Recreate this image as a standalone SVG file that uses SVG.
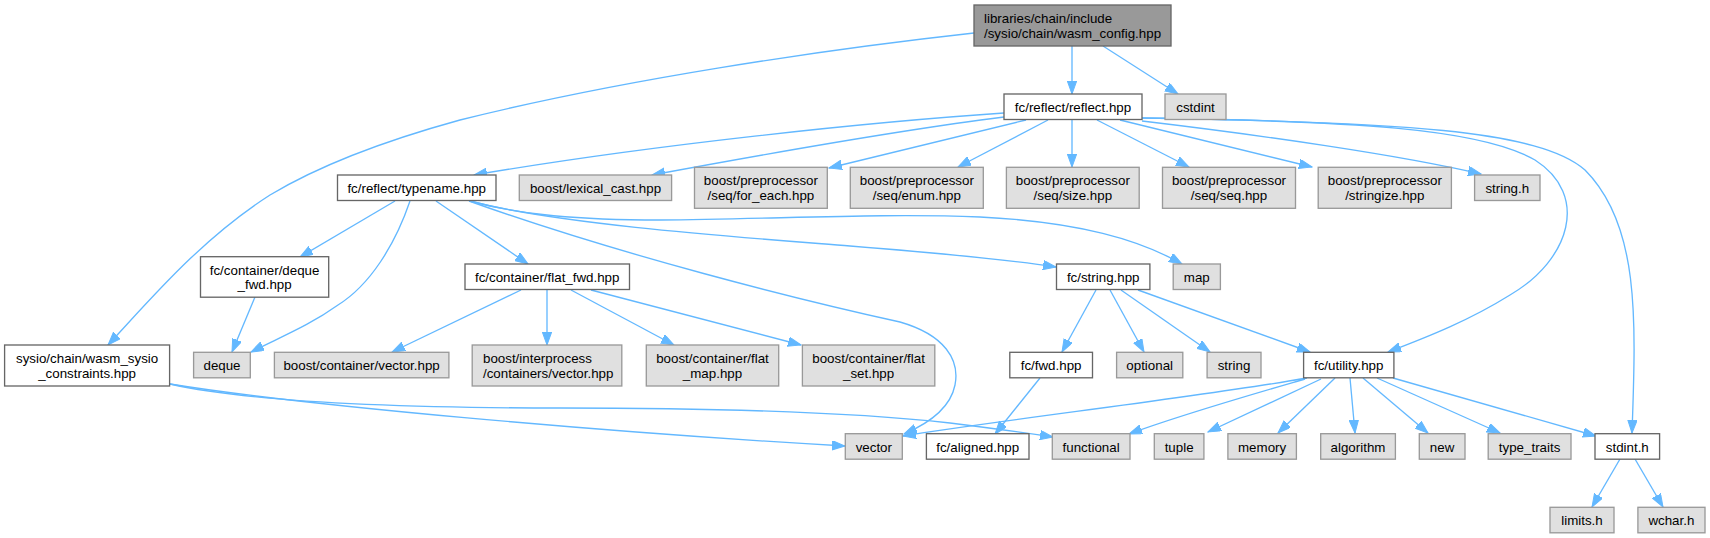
<svg xmlns="http://www.w3.org/2000/svg" width="1710" height="538" viewBox="0 0 1710 538">
<defs>
<marker id="a" markerWidth="14" markerHeight="10" refX="13" refY="4.7" orient="auto" markerUnits="userSpaceOnUse"><path d="M0,0 L13,4.7 L0,9.4 z" fill="#63b8ff" stroke="#63b8ff" stroke-width="1"/></marker>
<style>
.e{fill:none;stroke:#63b8ff;stroke-width:1.33;marker-end:url(#a)}
.w{fill:#ffffff;stroke:#666666;stroke-width:1.33}
.g{fill:#e0e0e0;stroke:#999999;stroke-width:1.33}
.r{fill:#999999;stroke:#666666;stroke-width:1.33}
text{font-family:"Liberation Sans",Arial,Helvetica,sans-serif;font-size:13.33px;fill:#000000;text-anchor:middle}
text.l{text-anchor:start}
</style>
</defs>
<rect width="1710" height="538" fill="#ffffff"/>
<g id="edges">
<path class="e" d="M1072,46 L1072,94"/>
<path class="e" d="M1103,46 L1178,94"/>
<path class="e" d="M974,33 C820,50 620,80 460,120 C380,142 320,165 270,195 C200,240 150,300 108,345"/>
<path class="e" d="M1004,113 C870,122 650,145 474,175"/>
<path class="e" d="M1004,117 C900,130 760,155 652,175"/>
<path class="e" d="M1026,120 L829,168"/>
<path class="e" d="M1048,120 L958,167"/>
<path class="e" d="M1072,120 L1072,167"/>
<path class="e" d="M1097,120 L1189,167"/>
<path class="e" d="M1120,120 L1312,167"/>
<path class="e" d="M1142,121 C1260,135 1400,155 1481,174"/>
<path class="e" d="M1141,118 C1350,121 1480,128 1535,160 C1590,195 1570,260 1510,295 C1470,320 1430,336 1388,352"/>
<path class="e" d="M1141,118 C1400,122 1540,130 1585,170 C1640,225 1636,320 1632,433"/>
<path class="e" d="M395,201 L300,257"/>
<path class="e" d="M410,201 C395,245 370,285 338,305 C310,325 285,335 251,352"/>
<path class="e" d="M436,201 L528,264"/>
<path class="e" d="M469,201 C620,255 800,300 900,322 C945,335 960,360 955,385 C950,410 925,425 904,434"/>
<path class="e" d="M470,201 C520,215 580,220 660,220 C780,219 880,213 980,217 C1080,222 1140,240 1182,264"/>
<path class="e" d="M470,201 C560,225 750,238 850,246 C950,254 1010,260 1056,267"/>
<path class="e" d="M255,297 L232,352"/>
<path class="e" d="M521,290 L392,352"/>
<path class="e" d="M547,290 L547,345"/>
<path class="e" d="M571,290 L674,345"/>
<path class="e" d="M591,290 L801,345"/>
<path class="e" d="M1096,290 L1062,352"/>
<path class="e" d="M1110,290 L1144,352"/>
<path class="e" d="M1121,290 L1210,352"/>
<path class="e" d="M1138,290 L1310,352"/>
<path class="e" d="M1040,378 L995,434"/>
<path class="e" d="M1307,378 C1200,397 1000,420 903,436"/>
<path class="e" d="M1305,379 C1250,395 1180,415 1129,434"/>
<path class="e" d="M1321,379 L1208,432"/>
<path class="e" d="M1335,378 L1278,433"/>
<path class="e" d="M1350,378 L1355,433"/>
<path class="e" d="M1363,378 L1428,433"/>
<path class="e" d="M1377,378 L1500,433"/>
<path class="e" d="M1393,378 L1596,436"/>
<path class="e" d="M1620,459 L1592,507"/>
<path class="e" d="M1635,459 L1663,507"/>
<path class="e" d="M170,384 C300,405 600,432 845,446"/>
<path class="e" d="M170,384 C250,402 400,408 560,408 C700,408 850,412 950,423 C990,428 1020,432 1053,437"/>
</g>
<g id="root"><rect class="r" x="974" y="5" width="197" height="41"/><text class="l" x="984" y="23">libraries/chain/include</text><text class="l" x="984" y="37.7">/sysio/chain/wasm_config.hpp</text></g>
<g id="reflect"><rect class="w" x="1004" y="94" width="138" height="25.5"/><text x="1073" y="111.8">fc/reflect/reflect.hpp</text></g>
<g id="cstdint"><rect class="g" x="1165" y="94" width="61" height="25.5"/><text x="1195.5" y="111.8">cstdint</text></g>
<g id="constraints"><rect class="w" x="4.6" y="345" width="165" height="41"/><text x="87.1" y="363">sysio/chain/wasm_sysio</text><text x="87.1" y="377.7">_constraints.hpp</text></g>
<g id="typename"><rect class="w" x="337.5" y="175" width="158.5" height="25.5"/><text x="416.7" y="192.8">fc/reflect/typename.hpp</text></g>
<g id="lexical_cast"><rect class="g" x="519.3" y="175" width="152.3" height="25.5"/><text x="595.5" y="192.8">boost/lexical_cast.hpp</text></g>
<g id="for_each"><rect class="g" x="694.5" y="167.3" width="132.8" height="41"/><text x="760.9" y="185.3">boost/preprocessor</text><text x="760.9" y="200">/seq/for_each.hpp</text></g>
<g id="enum"><rect class="g" x="850.3" y="167.3" width="133" height="41"/><text x="916.8" y="185.3">boost/preprocessor</text><text x="916.8" y="200">/seq/enum.hpp</text></g>
<g id="size"><rect class="g" x="1006.4" y="167.3" width="132.8" height="41"/><text x="1072.8" y="185.3">boost/preprocessor</text><text x="1072.8" y="200">/seq/size.hpp</text></g>
<g id="seq"><rect class="g" x="1162.5" y="167.3" width="133" height="41"/><text x="1229" y="185.3">boost/preprocessor</text><text x="1229" y="200">/seq/seq.hpp</text></g>
<g id="stringize"><rect class="g" x="1318.2" y="167.3" width="133.2" height="41"/><text x="1384.8" y="185.3">boost/preprocessor</text><text x="1384.8" y="200">/stringize.hpp</text></g>
<g id="string_h"><rect class="g" x="1474.6" y="175" width="65.4" height="25.5"/><text x="1507.3" y="192.8">string.h</text></g>
<g id="deque_fwd"><rect class="w" x="200.5" y="256.7" width="128.2" height="40.5"/><text x="264.6" y="274.7">fc/container/deque</text><text x="264.6" y="289.4">_fwd.hpp</text></g>
<g id="flat_fwd"><rect class="w" x="465" y="264" width="164.5" height="25.5"/><text x="547.2" y="281.8">fc/container/flat_fwd.hpp</text></g>
<g id="fc_string"><rect class="w" x="1056.5" y="264" width="93.4" height="25.5"/><text x="1103.2" y="281.8">fc/string.hpp</text></g>
<g id="map"><rect class="g" x="1173.2" y="264" width="47.2" height="25.5"/><text x="1196.8" y="281.8">map</text></g>
<g id="deque"><rect class="g" x="193.6" y="352.3" width="56.7" height="25.5"/><text x="222" y="370.1">deque</text></g>
<g id="container_vector"><rect class="g" x="274.4" y="352.3" width="174.5" height="25.5"/><text x="361.6" y="370.1">boost/container/vector.hpp</text></g>
<g id="interprocess"><rect class="g" x="472.2" y="345" width="149.6" height="41"/><text class="l" x="483" y="363">boost/interprocess</text><text class="l" x="483" y="377.7">/containers/vector.hpp</text></g>
<g id="flat_map"><rect class="g" x="646.3" y="345" width="132.4" height="41"/><text x="712.5" y="363">boost/container/flat</text><text x="712.5" y="377.7">_map.hpp</text></g>
<g id="flat_set"><rect class="g" x="802.4" y="345" width="132.4" height="41"/><text x="868.6" y="363">boost/container/flat</text><text x="868.6" y="377.7">_set.hpp</text></g>
<g id="fc_fwd"><rect class="w" x="1009.8" y="352.3" width="82.7" height="25.5"/><text x="1051.1" y="370.1">fc/fwd.hpp</text></g>
<g id="optional"><rect class="g" x="1116.6" y="352.3" width="66.2" height="25.5"/><text x="1149.7" y="370.1">optional</text></g>
<g id="string"><rect class="g" x="1207.1" y="352.3" width="53.9" height="25.5"/><text x="1234" y="370.1">string</text></g>
<g id="utility"><rect class="w" x="1303.6" y="352.3" width="90.3" height="25.5"/><text x="1348.7" y="370.1">fc/utility.hpp</text></g>
<g id="vector"><rect class="g" x="845.3" y="433.7" width="57" height="25.5"/><text x="873.8" y="451.5">vector</text></g>
<g id="aligned"><rect class="w" x="926.4" y="433.7" width="102.6" height="25.5"/><text x="977.7" y="451.5">fc/aligned.hpp</text></g>
<g id="functional"><rect class="g" x="1052.3" y="433.7" width="77.7" height="25.5"/><text x="1091.1" y="451.5">functional</text></g>
<g id="tuple"><rect class="g" x="1154.3" y="433.7" width="49.6" height="25.5"/><text x="1179.1" y="451.5">tuple</text></g>
<g id="memory"><rect class="g" x="1227.9" y="433.7" width="68.5" height="25.5"/><text x="1262.1" y="451.5">memory</text></g>
<g id="algorithm"><rect class="g" x="1320.7" y="433.7" width="74.7" height="25.5"/><text x="1358" y="451.5">algorithm</text></g>
<g id="new"><rect class="g" x="1419.3" y="433.7" width="45.7" height="25.5"/><text x="1442.1" y="451.5">new</text></g>
<g id="type_traits"><rect class="g" x="1488.2" y="433.7" width="82.8" height="25.5"/><text x="1529.6" y="451.5">type_traits</text></g>
<g id="stdint"><rect class="w" x="1595" y="433.7" width="64.6" height="25.5"/><text x="1627.3" y="451.5">stdint.h</text></g>
<g id="limits"><rect class="g" x="1550" y="507.3" width="64" height="25.5"/><text x="1582" y="525.1">limits.h</text></g>
<g id="wchar"><rect class="g" x="1637.9" y="507.3" width="67.1" height="25.5"/><text x="1671.4" y="525.1">wchar.h</text></g>
</svg>
